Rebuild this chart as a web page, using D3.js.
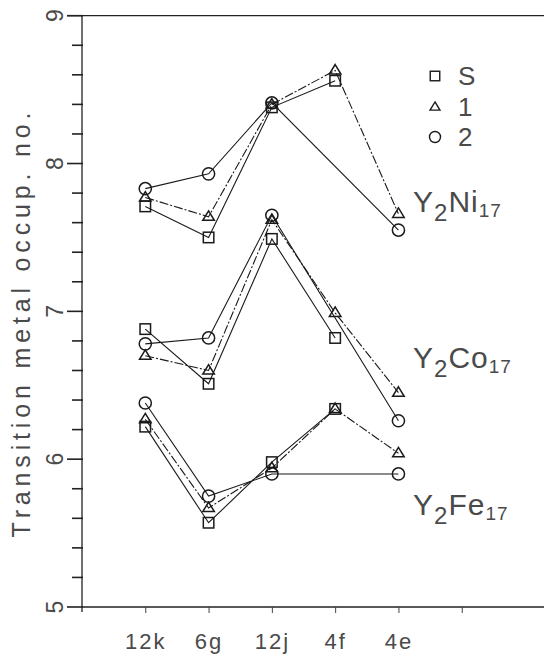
<!DOCTYPE html>
<html>
<head>
<meta charset="utf-8">
<script src="https://cdn.jsdelivr.net/npm/d3@7"></script>
<style>
  body { margin: 0; background: #fff; }
  svg text { font-family: "Liberation Sans", "DejaVu Sans", sans-serif; fill: #4a4a4a; }
</style>
</head>
<body>
<div id="chart"></div>
<script>
// sites along the x axis (positions 1..5)
var sites = ['12k', '6g', '12j', '4f', '4e'];
var yTicks = [5, 6, 7, 8, 9];
var yMinor = [5.2, 5.4, 5.6, 5.8, 6.2, 6.4, 6.6, 6.8, 7.2, 7.4, 7.6, 7.8, 8.2, 8.4, 8.6, 8.8];

// occupation numbers, null = no value for that site
var niS = [7.71, 7.50, 8.38, 8.56, null];
var niT = [7.77, 7.64, 8.40, 8.63, 7.66];
var niC = [7.83, 7.93, 8.41, null, 7.55];
var coS = [6.88, 6.51, 7.49, 6.82, null];
var coT = [6.70, 6.60, 7.62, 6.99, 6.45];
var coC = [6.78, 6.82, 7.65, null, 6.26];
var feS = [6.22, 5.57, 5.98, 6.34, null];
var feT = [6.27, 5.67, 5.94, 6.34, 6.04];
var feC = [6.38, 5.75, 5.90, null, 5.90];

var legendNames = ['S', '1', '2'];
var compounds = [
  {el: 'Ni', y: 212, series: [niS, niT, niC]},
  {el: 'Co', y: 368, series: [coS, coT, coC]},
  {el: 'Fe', y: 515, series: [feS, feT, feC]}
];

var W = 544, H = 660;
var x = d3.scaleLinear().domain([0, 7.3]).range([82, 544]);
var y = d3.scaleLinear().domain([5, 9]).range([607, 15.7]);

var svg = d3.select('#chart').append('svg')
  .attr('width', W).attr('height', H);

// frame lines
svg.append('line').attr('x1', 67).attr('x2', W).attr('y1', y(9)).attr('y2', y(9))
  .attr('stroke', '#222').attr('stroke-width', 1.3);
svg.append('line').attr('x1', x(0)).attr('x2', W).attr('y1', y(5)).attr('y2', y(5))
  .attr('stroke', '#222').attr('stroke-width', 1.3);
svg.append('line').attr('x1', x(0)).attr('x2', x(0)).attr('y1', y(9)).attr('y2', y(5) + 5)
  .attr('stroke', '#222').attr('stroke-width', 1.3);

// y ticks: minor every 0.2, longer ones on whole numbers
var tickG = svg.append('g');
tickG.selectAll('rect.minor')
  .data(yMinor)
  .enter()
  .append('rect')
  .attr('class', 'minor')
  .attr('x', x(0) - 10).attr('width', 11)
  .attr('y', function (d) { return y(d) - 0.8; })
  .attr('height', 1.6)
  .attr('fill', '#222');
tickG.selectAll('rect.major')
  .data(yTicks)
  .enter()
  .append('rect')
  .attr('class', 'major')
  .attr('x', x(0) - 15).attr('width', 16)
  .attr('y', function (d) { return y(d) - 0.8; })
  .attr('height', 1.6)
  .attr('fill', '#222');

// y labels turned like the title
svg.append('g').selectAll('text')
  .data(yTicks)
  .enter()
  .append('text')
  .attr('transform', function (d) { return `translate(63,${y(d)}) rotate(-90)`; })
  .attr('text-anchor', 'middle')
  .style('font-size', '23px')
  .text(function (d) { return d; });

// x ticks
var xAxis = d3.axisBottom(x).tickValues([1, 2, 3, 4, 5, 6]).tickSize(6)
  .tickFormat(function (d) { return sites[d - 1] || ''; });
var gx = svg.append('g').attr('transform', `translate(0,${y(5)})`).call(xAxis);
gx.select('.domain').remove();
gx.selectAll('line').attr('stroke', '#444').attr('stroke-width', 1);
gx.selectAll('text').attr('y', 42).attr('dy', null)
  .style('font-size', '22px').style('letter-spacing', '2px');

// y title
svg.append('text')
  .attr('transform', 'translate(30,325) rotate(-90)')
  .attr('text-anchor', 'middle')
  .attr('textLength', 425).attr('lengthAdjust', 'spacing')
  .style('font-size', '25px')
  .text('Transition metal occup. no.');

// markers
function drawMarker(g, kind, cx, cy, s) {
  if (kind === 0) {
    g.append('rect').attr('x', cx - s / 2).attr('y', cy - s / 2)
      .attr('width', s).attr('height', s);
  } else if (kind === 1) {
    var h = s * 0.9;
    g.append('path').attr('d', `M${cx},${cy - h * 0.62}L${cx + s * 0.55},${cy + h * 0.38}L${cx - s * 0.55},${cy + h * 0.38}Z`);
  } else {
    g.append('circle').attr('cx', cx).attr('cy', cy).attr('r', s * 0.58);
  }
}

var lineGen = d3.line()
  .x(function (d) { return x(d.i + 1); })
  .y(function (d) { return y(d.v); });

var dashes = [null, '9,2,2,2', null];

compounds.forEach(function (c) {
  c.series.forEach(function (vals, k) {
    var pts = vals.map(function (v, i) { return {i: i, v: v}; })
      .filter(function (d) { return d.v !== null; });
    svg.append('path')
      .attr('d', lineGen(pts))
      .attr('fill', 'none')
      .attr('stroke', '#1a1a1a')
      .attr('stroke-width', 1.1)
      .attr('stroke-dasharray', dashes[k]);
    var g = svg.append('g').attr('fill', 'none').attr('stroke', '#1a1a1a').attr('stroke-width', 1.5);
    pts.forEach(function (d) { drawMarker(g, k, x(d.i + 1), y(d.v), 10.5); });
  });

  // compound label
  var t = svg.append('text').attr('x', 413).attr('y', c.y).style('font-size', '30px')
    .style('letter-spacing', '1px');
  t.append('tspan').text('Y');
  t.append('tspan').attr('dy', 9).style('font-size', '24px').text('2');
  t.append('tspan').attr('dy', -9).text(c.el);
  t.append('tspan').attr('dy', 5).style('font-size', '19px').text('17');
});

// legend
legendNames.forEach(function (name, k) {
  var ly = [76, 107, 137][k];
  var g = svg.append('g').attr('fill', 'none').attr('stroke', '#1a1a1a').attr('stroke-width', 1.4);
  drawMarker(g, k, 435, ly, k === 1 ? 9 : 9.5);
  svg.append('text').attr('x', 458).attr('y', ly + 9)
    .style('font-size', '26px').text(name);
});
</script>
</body>
</html>
